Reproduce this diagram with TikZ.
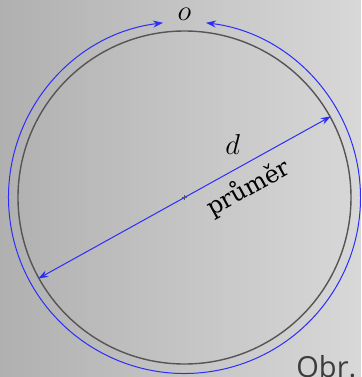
\documentclass[tikz,border=0pt]{standalone}
\usepackage{fontspec}
\newfontfamily\labelfont{DejaVu Serif}
\newfontfamily\captionfont{Open Sans}
\usetikzlibrary{arrows.meta}
\definecolor{ink}{RGB}{85,85,85}
\definecolor{measure}{RGB}{45,45,250}
\definecolor{bgleft}{RGB}{176,176,176}
\definecolor{bgright}{RGB}{216,216,216}
\definecolor{captionink}{RGB}{60,60,60}
\tikzset{
    line cap=round,
    rim/.style={
        circle,
        draw=ink,
        line width=0.7pt,
        inner sep=0pt,
        minimum size=166.5pt
    },
    dimline/.style={
        {Stealth[length=5pt,width=3.5pt]}-{Stealth[length=5pt,width=3.5pt]},
        draw=measure,
        line width=0.5pt
    },
    symbol/.style={
        font=\fontsize{15}{15}\selectfont,
        text=black,
        inner sep=0pt
    },
    wordlabel/.style={
        font=\labelfont\fontsize{12}{12}\selectfont,
        text=black,
        inner sep=0pt
    },
    caption/.style={
        font=\captionfont\fontsize{14.5}{14.5}\selectfont,
        text=captionink,
        inner sep=0pt
    }
}
\begin{document}
\begin{tikzpicture}[x=0.5pt, y=0.5pt]
\useasboundingbox (0,0) rectangle (361,377);
\clip (0,0) rectangle (361,377);

% Background
\shade[left color=bgleft, right color=bgright] (0,0) rectangle (361,377);

% Circle
\node[rim] (kruh) at (184.5,179.5) {};
\coordinate (stred) at (kruh.center);

% Circumference
\draw[dimline] ([shift={(97:176)}]stred) arc[start angle=97, end angle=443, radius=176];
\node[symbol] (obvod) at (184.5,363) {$o$};

% Diameter
\draw[dimline] (kruh.209.4) -- (kruh.29.4)
    node[symbol, pos=0.665, above=8pt] (dlabel) {$d$}
    node[wordlabel, pos=0.68, below=4.5pt, sloped] (prumer) {průměr};

% Centre mark
\draw[ink, line width=0.6pt] ([shift={(-2.5,0)}]stred) -- ([shift={(2.5,0)}]stred);
\draw[ink, line width=0.6pt] ([shift={(0,-2.5)}]stred) -- ([shift={(0,2.5)}]stred);

% Caption
\node[caption, anchor=base west] (obr) at (296,-1) {Obr.};
\end{tikzpicture}
\end{document}
